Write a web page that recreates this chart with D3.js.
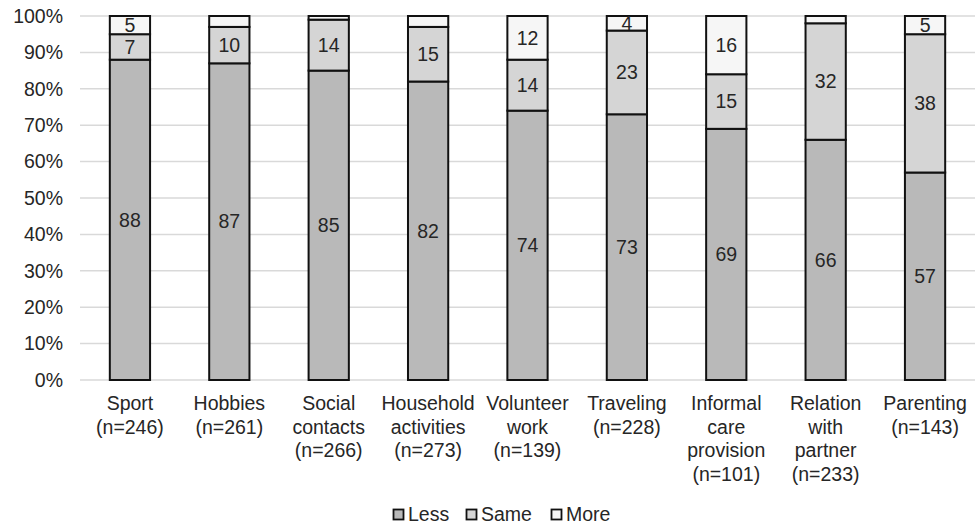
<!DOCTYPE html>
<html>
<head>
<meta charset="utf-8">
<script src="https://cdn.jsdelivr.net/npm/d3@7"></script>
<style>
html,body{margin:0;padding:0;background:#fff;}
text{font-family:"Liberation Sans",Arial,sans-serif;fill:#262626;}
</style>
</head>
<body>
<svg id="chart" width="980" height="527"></svg>
<script>
const categories = [
  ["Sport","(n=246)"],
  ["Hobbies","(n=261)"],
  ["Social","contacts","(n=266)"],
  ["Household","activities","(n=273)"],
  ["Volunteer","work","(n=139)"],
  ["Traveling","(n=228)"],
  ["Informal","care","provision","(n=101)"],
  ["Relation","with","partner","(n=233)"],
  ["Parenting","(n=143)"]
];
const less = [88, 87, 85, 82, 74, 73, 69, 66, 57];
const same = [7, 10, 14, 15, 14, 23, 15, 32, 38];
const more = [5, 3, 1, 3, 12, 4, 16, 2, 5];
const moreLabels = ["5", "", "", "", "12", "4", "16", "", "5"];
const lessLabels = less.map(String);
const sameLabels = same.map(String);
const yTicks = [0,10,20,30,40,50,60,70,80,90,100];
const seriesNames = ["Less","Same","More"];
const colors = ["#b9b9b9","#d5d5d5","#f6f6f6"];

const FS = "19.5px";
const svg = d3.select("#chart");
const x = d3.scaleBand().domain(d3.range(categories.length)).range([80, 975]).paddingInner(0.595).paddingOuter(0.3);
const y = d3.scaleLinear().domain([0,100]).range([380,16]);

// gridlines
svg.append("g").selectAll("line").data(yTicks).join("line")
  .attr("x1",80).attr("x2",975)
  .attr("y1",d=>y(d)).attr("y2",d=>y(d))
  .attr("stroke","#d9d9d9").attr("stroke-width",1.5);

// y axis labels
const yAxis = d3.axisLeft(y).tickValues(yTicks).tickFormat(d=>d+"%").tickSize(0).tickPadding(0);
const ya = svg.append("g").attr("transform","translate(63,0)").call(yAxis);
ya.select(".domain").remove();
ya.selectAll("text").style("font-size",FS).attr("fill","#262626").style("font-family","'Liberation Sans',Arial,sans-serif");

const seriesData = [less, same, more];
const labelData = [lessLabels, sameLabels, moreLabels];
const stacked = categories.map((c,i)=>{
  let base = 0;
  return seriesData.map((s,k)=>{ const seg = {i, k, y0: base, y1: base + s[i], label: labelData[k][i]}; base += s[i]; return seg; });
});
const segs = stacked.flat();

svg.append("g").selectAll("rect").data(segs).join("rect")
  .attr("x",d=>x(d.i)).attr("width",x.bandwidth())
  .attr("y",d=>y(d.y1)).attr("height",d=>y(d.y0)-y(d.y1))
  .attr("fill",d=>colors[d.k]).attr("stroke","#111").attr("stroke-width",2);

svg.append("g").selectAll("text").data(segs.filter(d=>d.label!=="")).join("text")
  .attr("x",d=>x(d.i)+x.bandwidth()/2)
  .attr("y",d=>y((d.y0+d.y1)/2))
  .attr("dy","0.35em").attr("text-anchor","middle")
  .style("font-size",FS).text(d=>d.label);

// category labels
const cat = svg.append("g").selectAll("text").data(categories).join("text")
  .attr("x",(d,i)=>x(i)+x.bandwidth()/2).attr("y",410)
  .attr("text-anchor","middle").style("font-size",FS);
cat.selectAll("tspan").data(d=>d).join("tspan")
  .attr("x",function(){return d3.select(this.parentNode).attr("x");})
  .attr("dy",(d,j)=>j===0?0:23.5).text(d=>d);

// legend
const legendX = [393, 466, 551];
const lg = svg.append("g").selectAll("g").data(seriesNames).join("g")
  .attr("transform",(d,i)=>`translate(${legendX[i]},509)`);
lg.append("rect").attr("width",10).attr("height",10).attr("x",0.5).attr("y",0.5)
  .attr("fill",(d,i)=>colors[i]).attr("stroke","#111").attr("stroke-width",1.8);
lg.append("text").attr("x",15).attr("y",5.5).attr("dy","0.35em").style("font-size",FS).text(d=>d);
</script>
</body>
</html>
